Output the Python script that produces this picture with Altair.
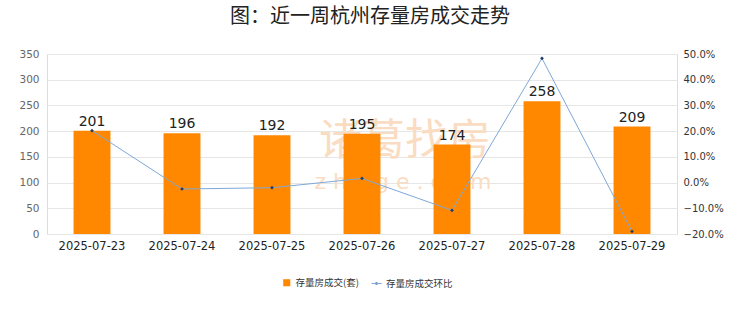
import altair as alt
import pandas as pd

dates = ["2025-07-23", "2025-07-24", "2025-07-25", "2025-07-26", "2025-07-27", "2025-07-28", "2025-07-29"]
deals = [201, 196, 192, 195, 174, 258, 209]
mom_pct = [20.2, -2.5, -2.0, 1.6, -10.8, 48.3, -19.0]
bar_name = "存量房成交(套)"
line_name = "存量房成交环比"

df = pd.DataFrame({
    "date": dates,
    "deals": deals,
    "mom": [m / 100 for m in mom_pct],
    "s1": bar_name,
    "s2": line_name,
})

FONT = "Noto Sans CJK SC"
NUMFONT = "DejaVu Sans"

x = alt.X(
    "date:N",
    sort=dates,
    scale=alt.Scale(paddingInner=0.59, paddingOuter=0.295),
    axis=alt.Axis(title=None, labelAngle=0, labelFont=NUMFONT, labelFontSize=11.5,
                  labelColor="#222222", ticks=False, domain=False, labelPadding=6),
)

base = alt.Chart(df)

watermark = alt.Chart(pd.DataFrame({"t": ["诸葛找房"]})).mark_text(
    font=FONT, fontSize=43, color="#fadcc2", fontWeight="normal"
).encode(x=alt.value(358), y=alt.value(88), text="t:N")
watermark2 = alt.Chart(pd.DataFrame({"t": ["z h u g e . c o m"]})).mark_text(
    font=NUMFONT, fontSize=22, color="#fadcc2"
).encode(x=alt.value(356), y=alt.value(128), text="t:N")

left_axis = alt.Axis(title=None, values=list(range(0, 351, 50)), grid=True,
                     gridColor="#e6e6e6", domain=False, ticks=False,
                     labelFont=NUMFONT, labelFontSize=10.5, labelColor="#666666",
                     labelPadding=8, labelOverlap=False)
yl = alt.Scale(domain=[0, 350])

bars = base.mark_bar().encode(
    x=x,
    y=alt.Y("deals:Q", scale=yl, axis=left_axis),
    color=alt.Color("s1:N", scale=alt.Scale(range=["#FF8800"]),
                    legend=alt.Legend(title=None, orient="none", legendX=235, legendY=224,
                                      symbolType="square", symbolSize=50, labelFont=FONT,
                                      labelFontSize=9.5, labelColor="#333333")),
)

labels = base.mark_text(dy=-9, font=NUMFONT, fontSize=14, color="#222222").encode(
    x=x, y=alt.Y("deals:Q", scale=yl, axis=left_axis), text="deals:Q"
)

right_axis = alt.Axis(title=None, orient="right", values=[-0.2, -0.1, 0, 0.1, 0.2, 0.3, 0.4, 0.5],
                      format=".1%", grid=False, domain=False, ticks=False, labelOverlap=False,
                      labelFont=NUMFONT, labelFontSize=10, labelColor="#333333", labelPadding=6)
yr = alt.Scale(domain=[-0.2, 0.5])

line = base.mark_line(strokeWidth=1).encode(
    x=x,
    y=alt.Y("mom:Q", scale=yr, axis=right_axis),
    stroke=alt.Stroke("s2:N", scale=alt.Scale(range=["#7ea8d8"]),
                      legend=alt.Legend(title=None, orient="none", legendX=324, legendY=224,
                                        symbolType="M-1,0L1,0M0,-0.3L0.3,0L0,0.3L-0.3,0Z",
                                        symbolSize=100, symbolStrokeWidth=1,
                                        symbolFillColor="#1f3d66", labelFont=FONT,
                                        labelFontSize=9.5, labelColor="#333333")),
)
points = base.mark_point(shape="diamond", filled=True, size=14, color="#1f3d66", opacity=1).encode(
    x=x, y=alt.Y("mom:Q", scale=yr, axis=right_axis)
)

left = alt.layer(watermark, watermark2, bars, labels)
right = alt.layer(line, points)

chart = alt.layer(left, right).resolve_scale(y="independent", color="independent").properties(
    width=630,
    height=180,
    title=alt.TitleParams("图：近一周杭州存量房成交走势", font=FONT, fontSize=20, fontWeight="normal",
                          color="#222222", anchor="middle", offset=22, dx=8),
    autosize=alt.AutoSizeParams(type="none"),
    padding={"left": 47, "top": 54, "right": 63, "bottom": 78},
).configure_view(stroke="#dddddd").configure(background="white")

chart.save("out.html", embed_options={"renderer": "svg", "actions": False})
